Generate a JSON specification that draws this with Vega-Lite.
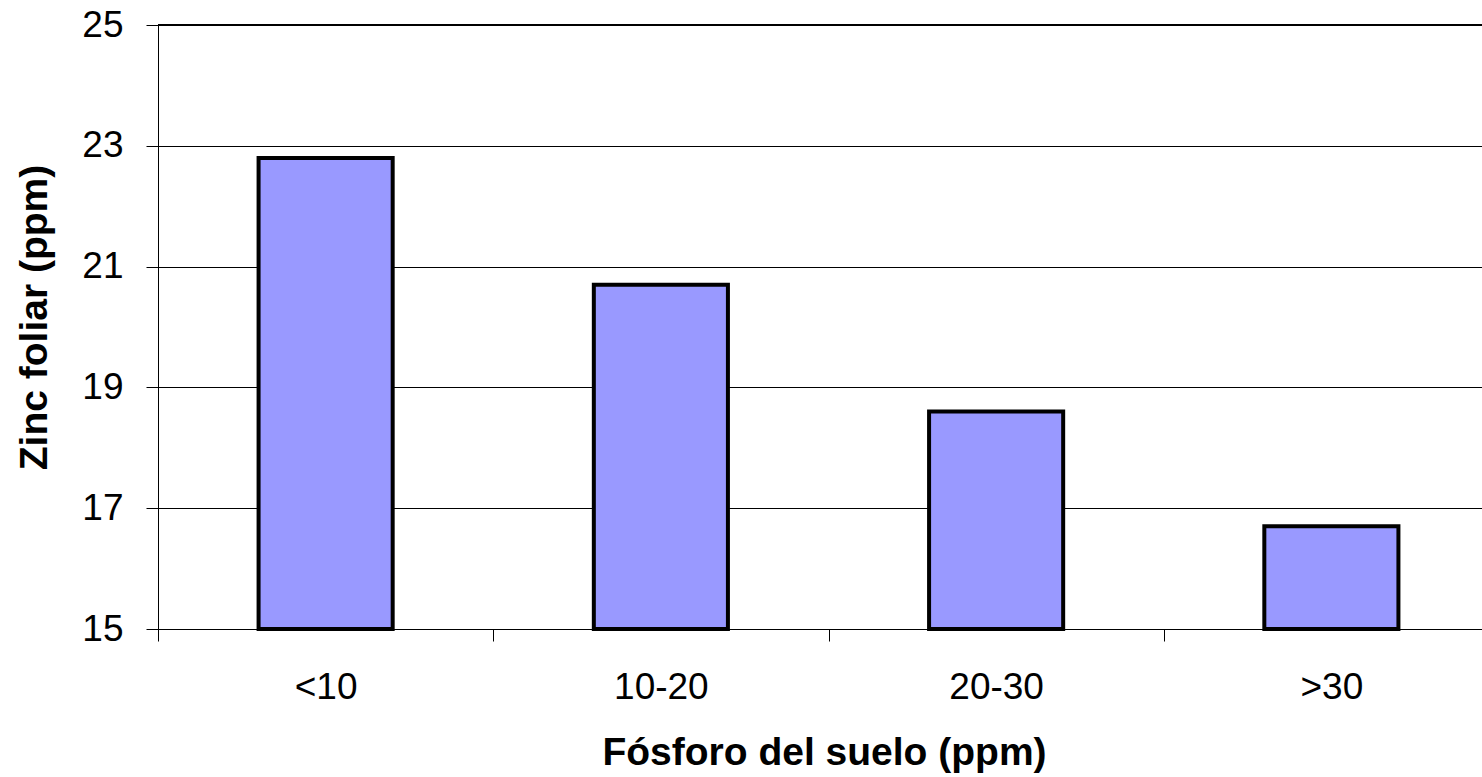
{
  "$schema": "https://vega.github.io/schema/vega-lite/v6.json",
  "width": 1341,
  "height": 604,
  "autosize": {"type": "none"},
  "padding": {"left": 158, "top": 25, "right": 0, "bottom": 148},
  "background": "white",
  "config": {"view": {"stroke": null}, "font": "Liberation Sans"},
  "data": {
    "values": [
      {"fosforo": "<10", "zinc": 22.8},
      {"fosforo": "10-20", "zinc": 20.7},
      {"fosforo": "20-30", "zinc": 18.6},
      {"fosforo": ">30", "zinc": 16.7}
    ]
  },
  "layer": [
    {
      "mark": {"type": "bar", "fill": "#9999FF", "stroke": "black", "strokeWidth": 4, "width": {"band": 0.4}},
      "encoding": {
        "x": {
          "field": "fosforo",
          "type": "nominal",
          "sort": null,
          "scale": {"paddingInner": 0, "paddingOuter": 0},
          "axis": {
            "labelAngle": 0,
            "tickBand": "extent",
            "tickSize": 12,
            "tickColor": "black",
            "tickWidth": 1,
            "domainColor": "black",
            "domainWidth": 1,
            "labelFontSize": 37,
            "labelColor": "black",
            "labelPadding": 28,
            "title": "Fósforo del suelo (ppm)",
            "titleFontSize": 39,
            "titleFontWeight": "bold",
            "titleColor": "black",
            "titleBaseline": "alphabetic",
            "titleAlign": "center",
            "titleY": 135,
            "titleX": 666,
            "grid": false
          }
        },
        "y": {
          "field": "zinc",
          "type": "quantitative",
          "scale": {"domain": [15, 25], "nice": false, "zero": false},
          "axis": {
            "values": [15, 17, 19, 21, 23, 25],
            "format": "d",
            "grid": true,
            "gridColor": "black",
            "gridWidth": 1,
            "gridOpacity": 1,
            "domainColor": "black",
            "domainWidth": 1,
            "tickColor": "black",
            "tickSize": 12,
            "tickWidth": 1,
            "labelFontSize": 37,
            "labelColor": "black",
            "labelPadding": 23,
            "title": "Zinc foliar (ppm)",
            "titleFontSize": 39,
            "titleFontWeight": "bold",
            "titleColor": "black",
            "titleAngle": -90,
            "titleBaseline": "alphabetic",
            "titleAlign": "center",
            "titleX": -112,
            "titleY": 292
          }
        },
        "y2": {"datum": 15}
      }
    },
    {
      "mark": {"type": "rule", "stroke": "black", "strokeWidth": 2},
      "encoding": {"y": {"datum": 25}}
    }
  ]
}
